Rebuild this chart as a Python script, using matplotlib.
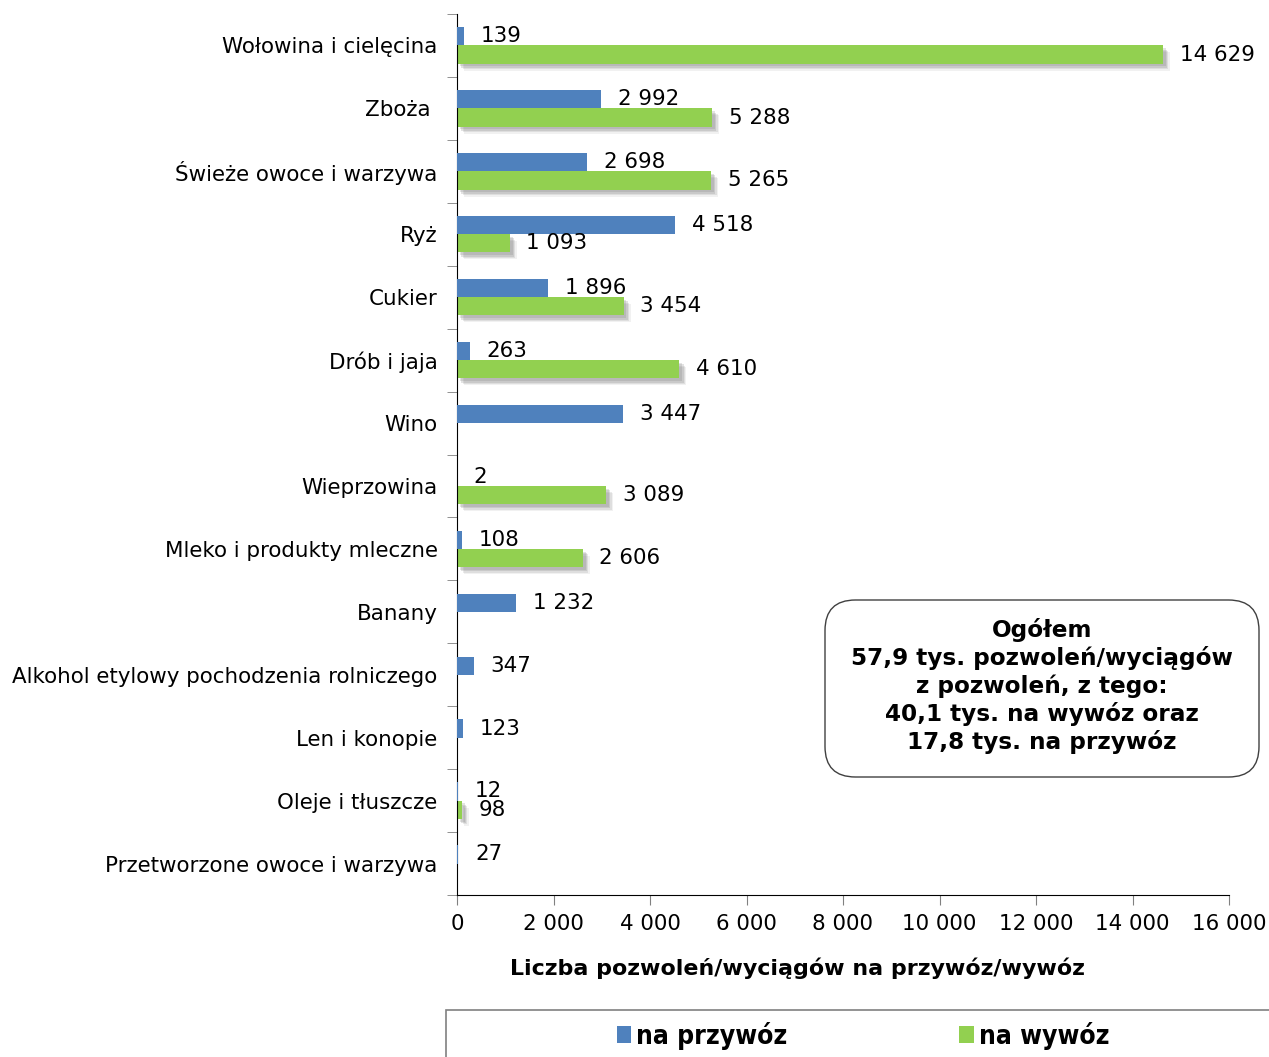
import matplotlib
matplotlib.use("Agg")
import matplotlib.pyplot as plt
import matplotlib.patheffects as pe
from matplotlib.patches import FancyBboxPatch, Rectangle, Patch
from matplotlib.ticker import FuncFormatter, FixedLocator
import numpy as np

categories = ["Wołowina i cielęcina", "Zboża ", "Świeże owoce i warzywa", "Ryż", "Cukier",
              "Drób i jaja", "Wino", "Wieprzowina", "Mleko i produkty mleczne", "Banany",
              "Alkohol etylowy pochodzenia rolniczego", "Len i konopie", "Oleje i tłuszcze",
              "Przetworzone owoce i warzywa"]
przywoz = [139, 2992, 2698, 4518, 1896, 263, 3447, 2, 108, 1232, 347, 123, 12, 27]
wywoz = [14629, 5288, 5265, 1093, 3454, 4610, None, 3089, 2606, None, None, None, 98, None]
x_ticks = [0, 2000, 4000, 6000, 8000, 10000, 12000, 14000, 16000]
series_names = ["na przywóz", "na wywóz"]
xlabel = "Liczba pozwoleń/wyciągów na przywóz/wywóz"
note = "Ogółem\n57,9 tys. pozwoleń/wyciągów\nz pozwoleń, z tego:\n40,1 tys. na wywóz oraz\n17,8 tys. na przywóz"

BLUE = "#4F81BD"
GREEN = "#92D050"
FONT = "DejaVu Sans"
FS = 15.4

fig = plt.figure(figsize=(12.69, 10.57), dpi=100)
W, H = 1269, 1057
ax = fig.add_axes([457 / W, 1 - 895 / H, (1229 - 457) / W, (895 - 14) / H])

n = len(categories)
y = np.arange(n)
h = 0.29

def fmt(v):
    return f"{v:,}".replace(",", " ")

shadow = [pe.SimplePatchShadow(offset=(5, -5), shadow_rgbFace="#777777", alpha=0.10),
          pe.SimplePatchShadow(offset=(4, -4), shadow_rgbFace="#777777", alpha=0.15),
          pe.SimplePatchShadow(offset=(3, -3), shadow_rgbFace="#777777", alpha=0.2),
          pe.SimplePatchShadow(offset=(2, -2), shadow_rgbFace="#777777", alpha=0.2),
          pe.Normal()]

for i in range(n):
    v = przywoz[i]
    if v is not None:
        ax.barh(y[i] - h / 2, v, height=h, color=BLUE, zorder=3)
        ax.annotate(fmt(v), (v, y[i] - h / 2), xytext=(12, 0), textcoords="offset points",
                    va="center", ha="left", fontsize=FS, family=FONT, zorder=5)
    w = wywoz[i]
    if w is not None:
        b = ax.barh(y[i] + h / 2, w, height=h, color=GREEN, zorder=2)
        for p in b:
            p.set_path_effects(shadow)
        ax.annotate(fmt(w), (w, y[i] + h / 2), xytext=(12, 0), textcoords="offset points",
                    va="center", ha="left", fontsize=FS, family=FONT, zorder=5)

ax.set_ylim(n - 0.5, -0.5)
ax.set_xlim(0, 16000)
ax.set_yticks(y)
ax.set_yticklabels(categories, fontsize=FS, family=FONT)
ax.tick_params(axis="y", which="major", length=0, pad=14)
ax.yaxis.set_minor_locator(FixedLocator(np.arange(-0.5, n, 1.0)))
ax.tick_params(axis="y", which="minor", length=7, color="#808080", direction="out")
ax.set_xticks(x_ticks)
ax.xaxis.set_major_formatter(FuncFormatter(lambda v, p: fmt(int(v))))
ax.tick_params(axis="x", length=7, color="#808080", labelsize=FS, pad=7)
for lab in ax.get_xticklabels():
    lab.set_family(FONT)
for s in ["top", "right"]:
    ax.spines[s].set_visible(False)
ax.spines["left"].set_color("black")
ax.spines["bottom"].set_color("black")

ax.set_xlabel(xlabel, fontsize=15.9, fontweight="bold", family=FONT)
ax.xaxis.set_label_coords((797 - 457) / 772, -(968 - 895) / 881)
ax.xaxis.label.set_va("center")

# note box
box = FancyBboxPatch((825 / W, 1 - 777 / H), (1259 - 825) / W, (777 - 600) / H,
                     boxstyle="round,pad=0,rounding_size=0.024", transform=fig.transFigure,
                     facecolor="white", edgecolor="#404040", linewidth=1.0, zorder=10,
                     mutation_aspect=W / H)
fig.add_artist(box)
fig.text(1042 / W, 1 - 686 / H, note, ha="center", va="center", fontsize=16.7,
         fontweight="bold", family=FONT, linespacing=1.21, zorder=11)

# legend frame
rect = Rectangle((446 / W, -0.01), 0.7, (1057 - 1010) / H + 0.01, transform=fig.transFigure,
                 facecolor="none", edgecolor="#808080", linewidth=1.2, clip_on=False)
fig.add_artist(rect)
handles = [Patch(facecolor=BLUE), Patch(facecolor=GREEN)]
leg = fig.legend(handles, series_names, loc="center", bbox_to_anchor=(863 / W, 1 - 1036 / H),
                 ncol=2, frameon=False, handlelength=0.55, handleheight=0.6, handletextpad=0.2,
                 columnspacing=6.5,
                 prop={"family": FONT, "weight": "bold", "size": 19, "stretch": "condensed"})

fig.savefig("out.png", dpi=100)
